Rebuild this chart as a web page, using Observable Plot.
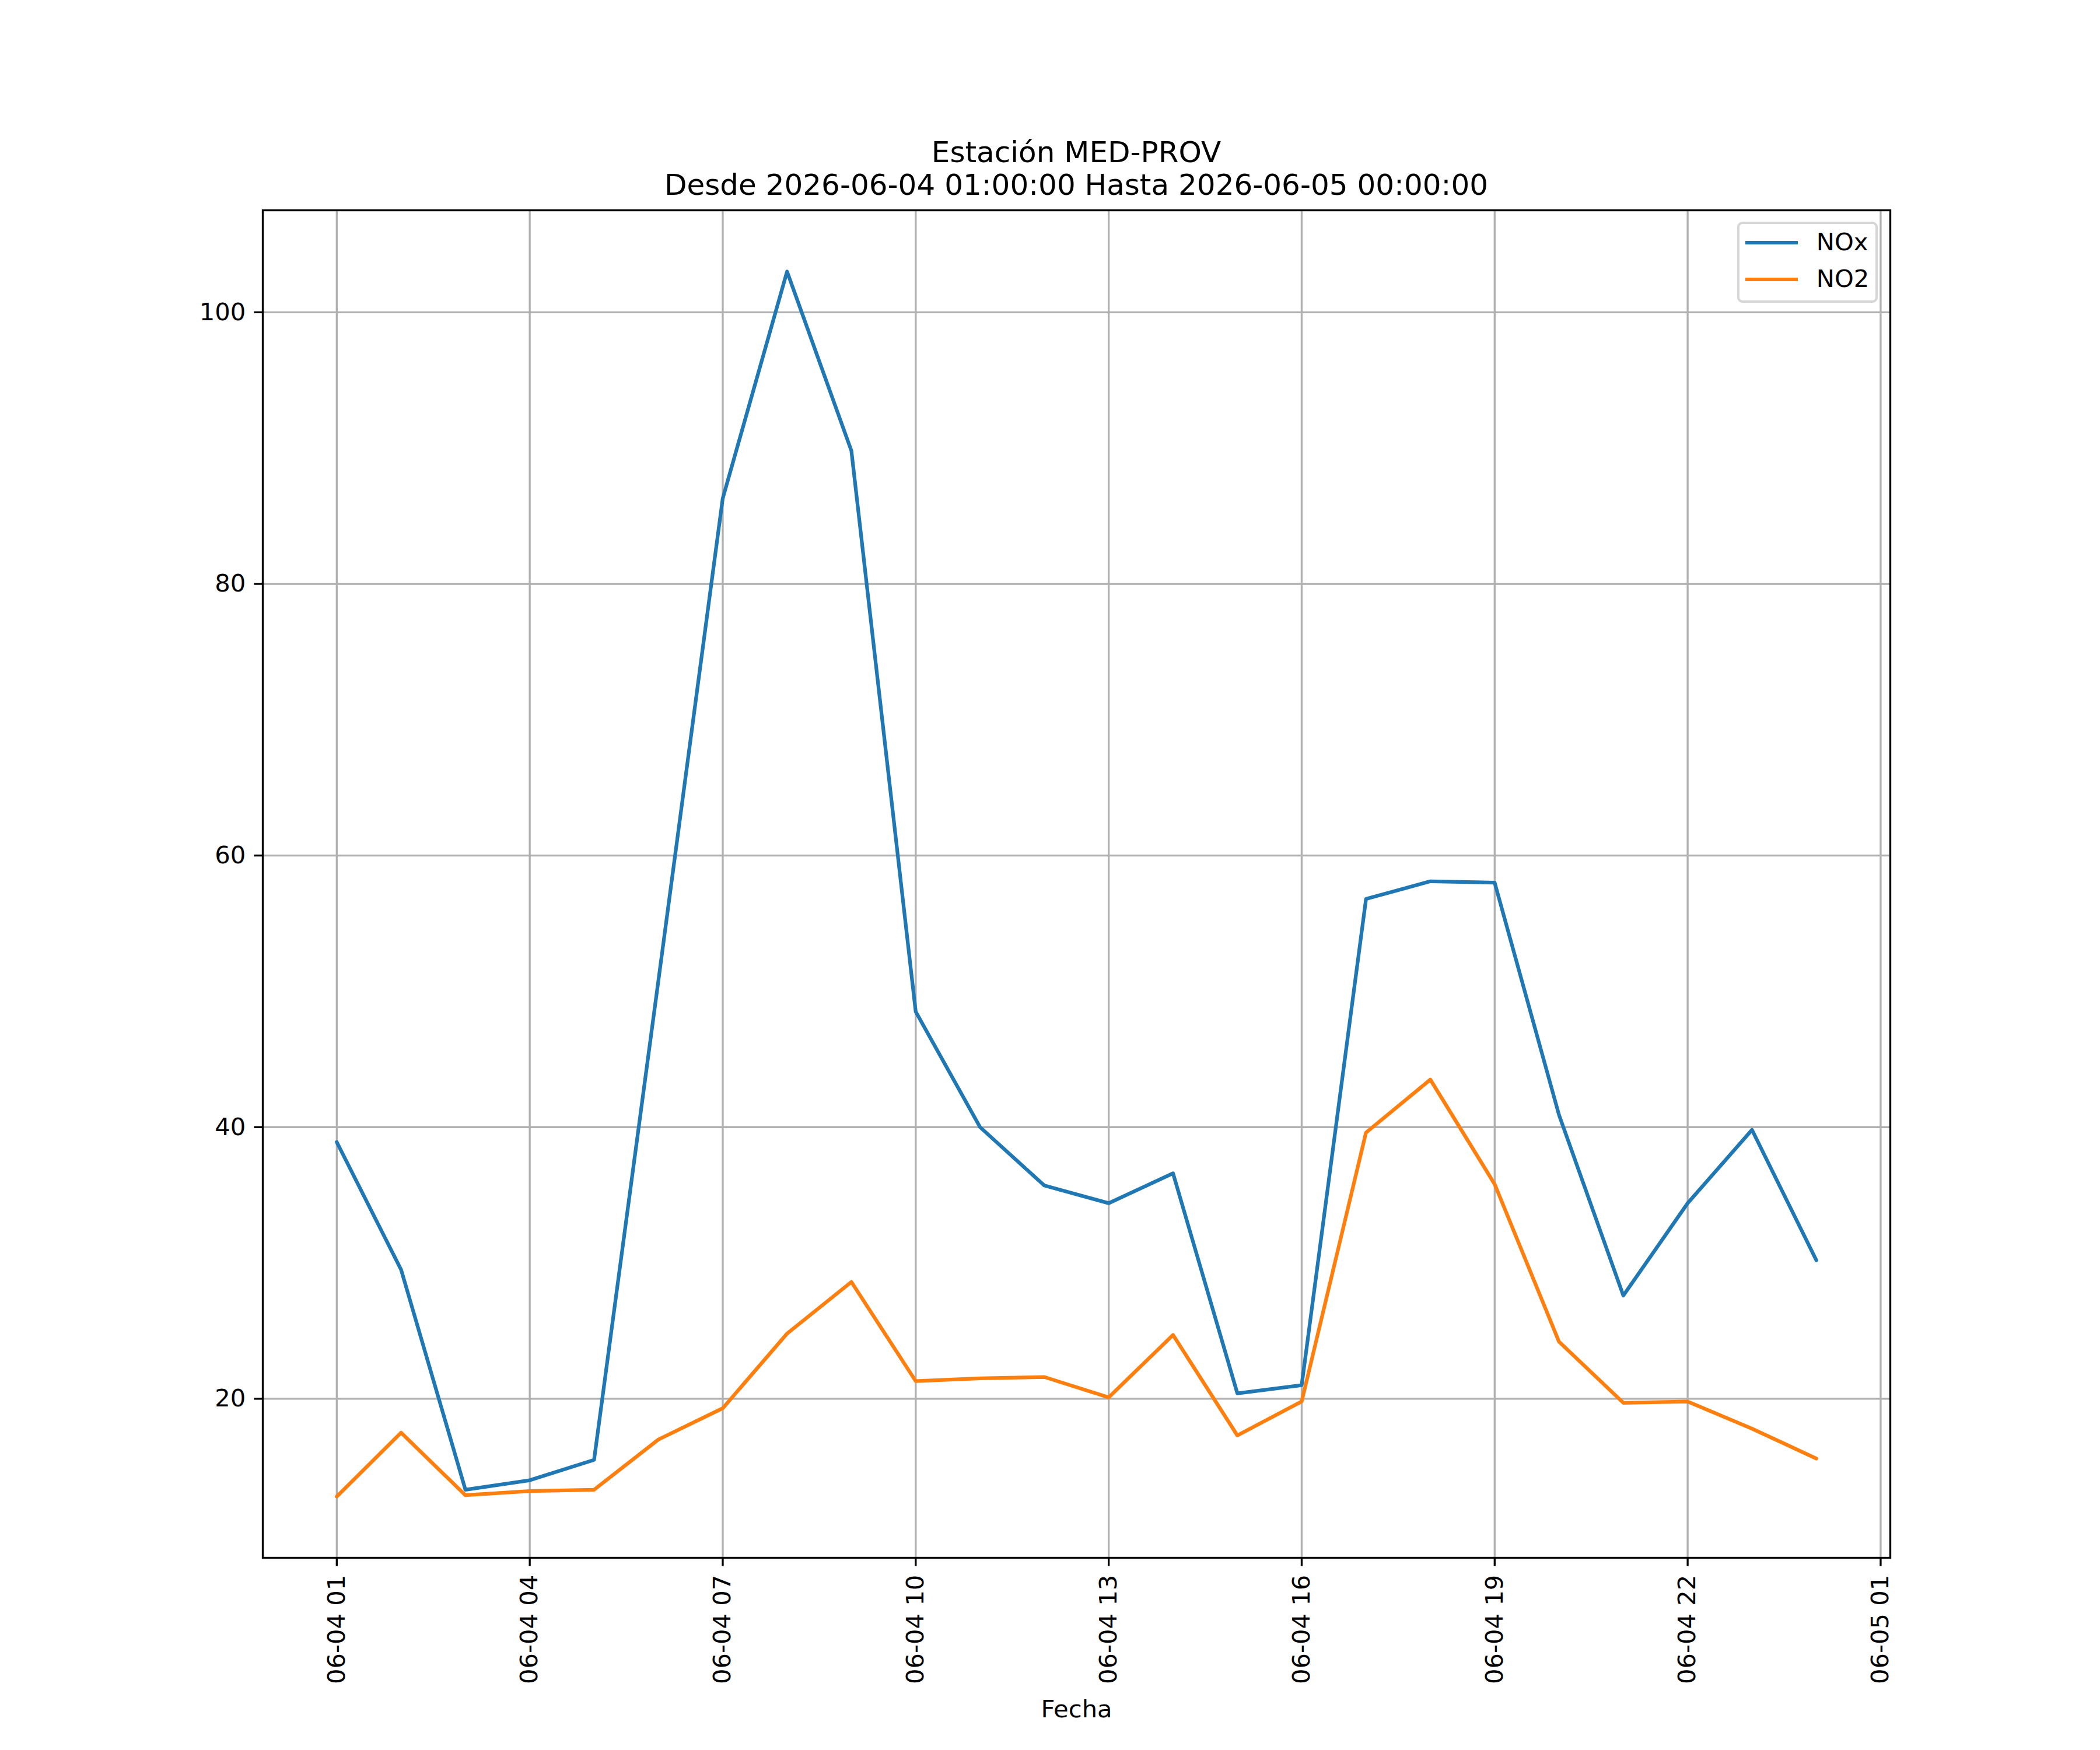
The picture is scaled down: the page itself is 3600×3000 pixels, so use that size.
<!DOCTYPE html>
<html>
<head>
<meta charset="utf-8">
<script src="https://cdn.jsdelivr.net/npm/d3@7"></script>
<script src="https://cdn.jsdelivr.net/npm/@observablehq/plot@0.6"></script>
<style>
  html, body { margin: 0; padding: 0; background: #ffffff; }
  #wrap { position: relative; width: 3600px; height: 3000px; font-family: "DejaVu Sans", sans-serif; color: #000; }
  #title { width: 3600px; height: 345px; box-sizing: border-box; padding-top: 233px; padding-left: 90px;
           text-align: center; font-size: 50px; line-height: 56px; white-space: pre; }
  #chart svg { display: block; }
  #legend { position: absolute; left: 2978px; top: 380px; width: 241px; height: 139px; box-sizing: border-box;
            border: 4.17px solid #d6d6d6; border-radius: 9px; background: rgba(255,255,255,0.8); }
  .sw { position: absolute; height: 6.25px; width: 90px; }
  .lb { position: absolute; font-size: 41.67px; line-height: 50px; white-space: nowrap; }
</style>
</head>
<body>
<div id="wrap">
  <div id="title"></div>
  <div id="chart"></div>
  <div id="legend"></div>
</div>
<script>
// ---- data ----
const titleLines = ["Estación MED-PROV", "Desde 2026-06-04 01:00:00 Hasta 2026-06-05 00:00:00"];
const xLabel = "Fecha";
const times = [
  "2026-06-04T01:00:00Z","2026-06-04T02:00:00Z","2026-06-04T03:00:00Z","2026-06-04T04:00:00Z",
  "2026-06-04T05:00:00Z","2026-06-04T06:00:00Z","2026-06-04T07:00:00Z","2026-06-04T08:00:00Z",
  "2026-06-04T09:00:00Z","2026-06-04T10:00:00Z","2026-06-04T11:00:00Z","2026-06-04T12:00:00Z",
  "2026-06-04T13:00:00Z","2026-06-04T14:00:00Z","2026-06-04T15:00:00Z","2026-06-04T16:00:00Z",
  "2026-06-04T17:00:00Z","2026-06-04T18:00:00Z","2026-06-04T19:00:00Z","2026-06-04T20:00:00Z",
  "2026-06-04T21:00:00Z","2026-06-04T22:00:00Z","2026-06-04T23:00:00Z","2026-06-05T00:00:00Z"
];
const noxValues = [38.9, 29.5, 13.3, 14.0, 15.5, 50.8, 86.3, 103.0, 89.8, 48.5, 40.0, 35.7,
                   34.4, 36.6, 20.4, 21.0, 56.8, 58.1, 58.0, 40.9, 27.6, 34.4, 39.8, 30.2];
const no2Values = [12.8, 17.5, 12.9, 13.2, 13.3, 17.0, 19.3, 24.8, 28.6, 21.3, 21.5, 21.6,
                   20.1, 24.7, 17.3, 19.8, 39.6, 43.5, 35.8, 24.2, 19.7, 19.8, 17.8, 15.6];
const seriesNames = ["NOx", "NO2"];
const seriesColors = ["#1f77b4", "#ff7f0e"];
const xTickTimes = [
  "2026-06-04T01:00:00Z","2026-06-04T04:00:00Z","2026-06-04T07:00:00Z","2026-06-04T10:00:00Z",
  "2026-06-04T13:00:00Z","2026-06-04T16:00:00Z","2026-06-04T19:00:00Z","2026-06-04T22:00:00Z",
  "2026-06-05T01:00:00Z"
];
const yTicks = [20, 40, 60, 80, 100];

// ---- build ----
const dates = times.map(s => new Date(s));
const rows = dates.map((t, i) => ({ t, NOx: noxValues[i], NO2: no2Values[i] }));
const xTicks = xTickTimes.map(s => new Date(s));
const fmt = d3.utcFormat("%m-%d %H");

// matplotlib-style 5% margins
const [t0, t1] = d3.extent(dates, d => +d);
const tm = (t1 - t0) * 0.05;
const xDomain = [new Date(t0 - tm), new Date(t1 + tm)];
const allY = noxValues.concat(no2Values);
const [y0, y1] = d3.extent(allY);
const ym = (y1 - y0) * 0.05;
const yDomain = [y0 - ym, y1 + ym];

document.getElementById("title").textContent = titleLines.join("\n");

const lw = 6.25, thin = 3.33, tick = 14.6;
const chart = Plot.plot({
  width: 3600,
  height: 2655,
  marginTop: 15,
  marginBottom: 330,
  marginLeft: 450,
  marginRight: 360,
  style: { fontFamily: "DejaVu Sans", fontSize: "41.67px", color: "black", background: "white", overflow: "visible" },
  x: { type: "utc", domain: xDomain },
  y: { domain: yDomain },
  marks: [
    Plot.gridX(xTicks, { stroke: "#b0b0b0", strokeOpacity: 1, strokeWidth: thin }),
    Plot.gridY(yTicks, { stroke: "#b0b0b0", strokeOpacity: 1, strokeWidth: thin }),
    Plot.line(rows, { x: "t", y: "NOx", stroke: seriesColors[0], strokeWidth: lw, strokeLinejoin: "round" }),
    Plot.line(rows, { x: "t", y: "NO2", stroke: seriesColors[1], strokeWidth: lw, strokeLinejoin: "round" }),
    Plot.frame({ stroke: "black", strokeWidth: thin }),
    Plot.axisX({ ticks: xTicks, tickFormat: fmt, tickRotate: -90, tickSize: tick, tickPadding: tick,
                 strokeWidth: thin, label: null, fontSize: 41.67 }),
    Plot.axisY({ ticks: yTicks, tickSize: tick, tickPadding: tick, strokeWidth: thin, label: null, fontSize: 41.67 }),
    Plot.text([xLabel], { frameAnchor: "bottom", dy: 273, lineAnchor: "bottom", fontSize: 41.67, fill: "black" })
  ]
});
document.getElementById("chart").appendChild(chart);

// legend (HTML, overlaid in the upper-right of the axes)
const legend = document.getElementById("legend");
const rowBaselines = [430, 493];
const rowLineY = [416, 479];
seriesNames.forEach((name, i) => {
  const sw = document.createElement("div");
  sw.className = "sw";
  sw.style.background = seriesColors[i];
  sw.style.left = (2992 - 2978 - 4.17) + "px";
  sw.style.top = (rowLineY[i] - 380 - 4.17 - 3.1) + "px";
  legend.appendChild(sw);
  const lb = document.createElement("div");
  lb.className = "lb";
  lb.textContent = name;
  lb.style.left = (3114 - 2978 - 4.17) + "px";
  lb.style.top = (rowBaselines[i] - 380 - 4.17 - 39.4) + "px";
  legend.appendChild(lb);
});
</script>
</body>
</html>
